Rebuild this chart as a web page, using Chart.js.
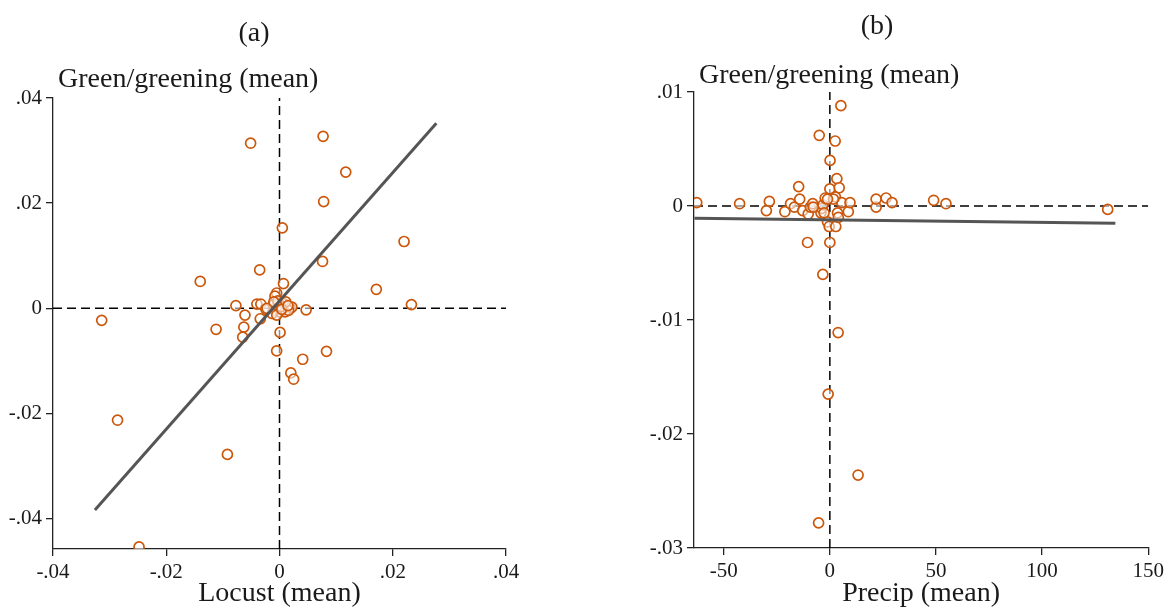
<!DOCTYPE html>
<html>
<head>
  <title>Green/greening vs locust and precipitation</title>
  <script src="https://cdn.jsdelivr.net/npm/chart.js@4.4.0/dist/chart.umd.min.js"></script>
  <style>
    body { margin: 0; background: #fff; }
    #wrap { position: relative; width: 1168px; height: 608px; }
    #wrap canvas { position: absolute; left: 0; top: 0; }
  </style>
</head>
<body>
  <div id="wrap">
    <canvas id="chartA" width="1168" height="608"></canvas>
    <canvas id="chartB" width="1168" height="608"></canvas>
  </div>

  <script>
    // panel (a): locust vs green/greening
    const locustX = [-0.0051, 0.0005, -0.0140, -0.0035, 0.0007, -0.0077, -0.0314, -0.0112, -0.0061, -0.0063,
      -0.0034, 0.0001, -0.0040, -0.0033, -0.0024, 0.0077, 0.0117, 0.0078, 0.0220, 0.0076,
      0.0171, 0.0233, 0.0047, -0.0286, -0.0092, -0.0248, -0.0065, -0.0005, 0.0083, 0.0041,
      0.0020, 0.0025, -0.0005, -0.0008, -0.0011, -0.0002, 0.0007, 0.0013, 0.0019, 0.0022,
      -0.0008, 0.0001, -0.0013, 0.0010, -0.0005, -0.0022, 0.0003, 0.0016, -0.0003, 0.0011,
      0.0004, 0.0015, -0.0010];
    const greenA = [0.0314, 0.0153, 0.0051, 0.0073, 0.0047, 0.0005, -0.0023, -0.0040, -0.0013, -0.0036,
      -0.0020, -0.0046, 0.0008, 0.0008, -0.0002, 0.0327, 0.0259, 0.0203, 0.0127, 0.0089,
      0.0036, 0.0007, -0.0003, -0.0213, -0.0278, -0.0454, -0.0055, -0.0081, -0.0082, -0.0097,
      -0.0123, -0.0135, 0.0029, 0.0023, 0.0006, 0.0009, 0.0009, 0.0002, 0.0000, 0.0002,
      -0.0004, -0.0007, -0.0010, -0.0007, -0.0013, 0.0000, 0.0003, -0.0004, 0.0014, 0.0012,
      -0.0002, 0.0005, 0.0012];
    const fitXA = [-0.0326, 0.0277];
    const fitYA = [-0.0384, 0.0352];
    const xTicksA = [-0.04, -0.02, 0, 0.02, 0.04];
    const xTickLabelsA = ['-.04', '-.02', '0', '.02', '.04'];
    const yTicksA = [-0.04, -0.02, 0, 0.02, 0.04];
    const yTickLabelsA = ['-.04', '-.02', '0', '.02', '.04'];

    // panel (b): precipitation vs green/greening
    const precipX = [-62.7, -42.5, -28.5, -29.9, -21.2, -18.5, -16.7, -14.7, -14.2, -12.8,
      -10.5, -10.2, -9.2, -8.1, -5.0, -4.2, -3.8, -3.2, -3.3, -2.2,
      -1.1, 0.1, 0.0, 0.0, -0.3, 2.5, 2.6, 2.8, 3.3, 3.6,
      4.0, 4.4, 5.2, 5.6, 3.9, 8.7, 9.5, 21.8, 21.8, 26.5,
      29.3, 48.9, 54.7, 130.9, -0.8, 13.3, -5.3, 1.7, -1.1, -7.8, -2.7];
    const greenB = [0.0003, 0.0002, 0.0004, -0.0004, -0.0005, 0.0002, -0.0001, 0.0017, 0.0006, -0.0004,
      -0.0032, -0.0007, -0.0001, 0.0002, 0.0062, -0.0006, -0.0002, 0.0001, -0.0060, 0.0007,
      -0.0014, 0.0040, 0.0015, -0.0032, -0.0018, 0.0057, 0.0008, -0.0018, 0.0024, -0.0006,
      -0.0010, 0.0016, 0.0088, 0.0003, -0.0111, -0.0005, 0.0003, -0.0001, 0.0006, 0.0007,
      0.0003, 0.0005, 0.0002, -0.0003, -0.0165, -0.0236, -0.0278, 0.0006, 0.0006, -0.0001, -0.0006];
    const fitXB = [-63.8, 134.5];
    const fitYB = [-0.00108, -0.00152];
    const xTicksB = [-50, 0, 50, 100, 150];
    const xTickLabelsB = ['-50', '0', '50', '100', '150'];
    const yTicksB = [-0.03, -0.02, -0.01, 0, 0.01];
    const yTickLabelsB = ['-.03', '-.02', '-.01', '0', '.01'];

    const serif = "'Liberation Serif', 'DejaVu Serif', serif";
    const textColor = '#1a1a1a';
    const axisColor = '#222222';
    const markerColor = '#cc560a';

    const toPoints = (xs, ys) => xs.map((x, i) => ({ x: x, y: ys[i] }));

    // titles: panel letter and horizontal y title above the plot
    const panelText = {
      id: 'panelText',
      afterDraw(chart, args, opts) {
        const ctx = chart.ctx;
        ctx.save();
        ctx.fillStyle = textColor;
        ctx.font = '28px ' + serif;
        ctx.textBaseline = 'alphabetic';
        ctx.textAlign = 'center';
        ctx.fillText(opts.title, opts.titleX, opts.titleY);
        ctx.textAlign = 'left';
        ctx.fillText(opts.yTitle, chart.chartArea.left + 5, opts.yTitleY);
        ctx.restore();
      }
    };

    function axis(opts) {
      return {
        type: 'linear',
        min: opts.min,
        max: opts.max,
        afterBuildTicks: s => { s.ticks = opts.ticks.map(v => ({ value: v })); },
        afterFit: s => { if (opts.width) s.width = opts.width; if (opts.height) s.height = opts.height; },
        grid: { display: true, drawOnChartArea: false, drawTicks: true, tickLength: 7, color: axisColor, lineWidth: 1.3 },
        border: { display: true, color: axisColor, width: 1.3 },
        ticks: {
          autoSkip: false,
          padding: 4,
          maxRotation: 0,
          color: textColor,
          font: { family: serif, size: 21 },
          callback: (v, i) => opts.labels[i]
        },
        title: opts.title ? {
          display: true,
          text: opts.title,
          color: textColor,
          font: { family: serif, size: 28, lineHeight: 1 },
          padding: 0
        } : { display: false }
      };
    }

    function makeChart(id, cfg) {
      const dashed = { borderColor: '#000', borderWidth: 1.5, borderDash: [9, 5], pointRadius: 0, showLine: true, fill: false, order: 2 };
      return new Chart(document.getElementById(id), {
        type: 'scatter',
        data: {
          datasets: [
            {
              data: toPoints(cfg.fitX, cfg.fitY),
              showLine: true, borderColor: '#555555', borderWidth: 3, pointRadius: 0, order: 0
            },
            {
              data: toPoints(cfg.x, cfg.y),
              pointRadius: 5, pointBorderWidth: 1.7,
              pointBorderColor: markerColor, pointBackgroundColor: 'rgba(255,255,255,0.55)', order: 1
            },
            Object.assign({ data: [{ x: cfg.xMin, y: 0 }, { x: cfg.xMax, y: 0 }] }, dashed),
            Object.assign({ data: [{ x: 0, y: cfg.yMin }, { x: 0, y: cfg.yMax }] }, dashed)
          ]
        },
        options: {
          responsive: false,
          animation: false,
          devicePixelRatio: 1,
          layout: { padding: cfg.padding },
          plugins: {
            legend: { display: false },
            tooltip: { enabled: false },
            panelText: cfg.text
          },
          scales: {
            x: axis({ min: cfg.xMin, max: cfg.xMax, ticks: cfg.xTicks, labels: cfg.xLabels, height: cfg.xHeight, title: cfg.xTitle }),
            y: axis({ min: cfg.yMin, max: cfg.yMax, ticks: cfg.yTicks, labels: cfg.yLabels, width: cfg.yWidth })
          }
        },
        plugins: [panelText]
      });
    }

    makeChart('chartA', {
      x: locustX, y: greenA, fitX: fitXA, fitY: fitYA,
      xMin: -0.04, xMax: 0.04, yMin: -0.0458, yMax: 0.04,
      xTicks: xTicksA, xLabels: xTickLabelsA, yTicks: yTicksA, yLabels: yTickLabelsA,
      xTitle: 'Locust (mean)',
      padding: { top: 98, right: 662, bottom: 0, left: 0 },
      yWidth: 53, xHeight: 59,
      text: { title: '(a)', titleX: 254, titleY: 41, yTitle: 'Green/greening (mean)', yTitleY: 87 }
    });

    makeChart('chartB', {
      x: precipX, y: greenB, fitX: fitXB, fitY: fitYB,
      xMin: -64, xMax: 150, yMin: -0.03, yMax: 0.01,
      xTicks: xTicksB, xLabels: xTickLabelsB, yTicks: yTicksB, yLabels: yTickLabelsB,
      xTitle: 'Precip (mean)',
      padding: { top: 92, right: 17, bottom: 0, left: 0 },
      yWidth: 694, xHeight: 60,
      text: { title: '(b)', titleX: 877, titleY: 34, yTitle: 'Green/greening (mean)', yTitleY: 83 }
    });
  </script>
</body>
</html>
